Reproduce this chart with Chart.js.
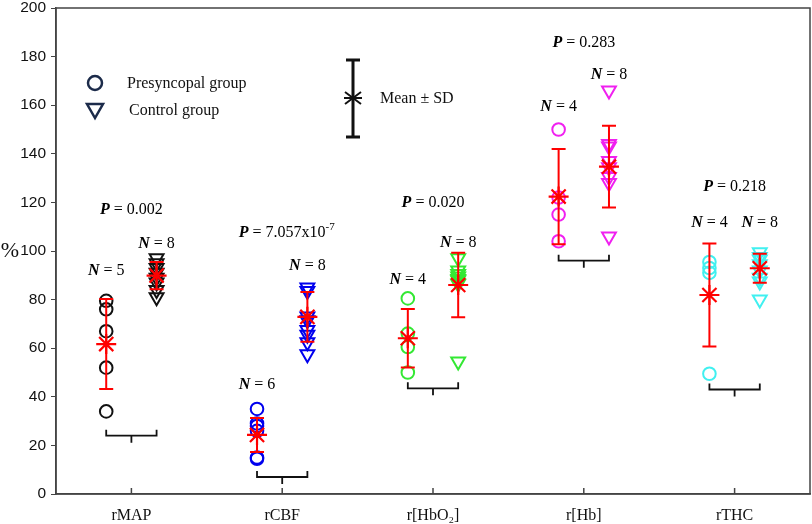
<!DOCTYPE html>
<html><head><meta charset="utf-8">
<script src="https://cdn.jsdelivr.net/npm/chart.js@4/dist/chart.umd.min.js"></script>
<style>html,body{margin:0;padding:0;background:#fff}canvas{display:block}</style>
</head><body>
<canvas id="c" width="812" height="524" style="width:812px;height:524px"></canvas>
<script>
// ---- data ----
const categories = ['rMAP', 'rCBF', 'r[HbO₂]', 'r[Hb]', 'rTHC'];
const colors = ['#111111', '#0000ee', '#33e833', '#f020f0', '#40f0f0'];
const presyncopal = [
  [79.5, 76, 67, 52, 34],
  [35, 29, 28, 26, 15, 14.5],
  [80.5, 66, 60.5, 50],
  [150, 122, 115, 104],
  [95.5, 93, 91, 49.5]
];
const control = [
  [97, 95, 93, 91, 89, 87, 84, 81],
  [85, 83.5, 73, 71.5, 67.5, 65.5, 62.5, 57.5],
  [97, 92, 90.5, 89.5, 88.5, 88, 86.5, 54.5],
  [166, 144, 143, 137, 134.5, 130.5, 128, 106],
  [99.5, 97.5, 96.5, 94.5, 92, 89, 87.5, 80]
];
const preMean = [61.7, 24.3, 64.1, 122.4, 81.9];
const preSD = [18.5, 7, 12, 19.6, 21.2];
const ctrlMean = [89.9, 72.9, 86, 134.7, 92.9];
const ctrlSD = [5.6, 10.2, 13.3, 16.8, 6];
const pValues = ['0.002', '7.057x10^-7', '0.020', '0.283', '0.218'];
const pLabelY = [117, 107.5, 120, 185.5, 126.5];
const nPre = [5, 6, 4, 4, 4];
const nCtrl = [8, 8, 8, 8, 8];
const nPreY = [92, 45, 88, 159.5, 111.5];
const nCtrlY = [103, 94, 103.5, 172.5, 111.5];
const bracketY = [24, 7, 43.5, 96, 43];
const yTicks = [0, 20, 40, 60, 80, 100, 120, 140, 160, 180, 200];

const OFF = 0.167;
const datasets = [];
categories.forEach((c, i) => {
  datasets.push({
    label: c + ' presyncopal', data: presyncopal[i].map(v => ({x: i + 1 - OFF, y: v})),
    pointStyle: 'circle', radius: 6.3, borderColor: colors[i], backgroundColor: 'rgba(0,0,0,0)',
    borderWidth: 2, showLine: false, order: 2
  });
  datasets.push({
    label: c + ' control', data: control[i].map(v => ({x: i + 1 + OFF, y: v})),
    pointStyle: 'triangle', rotation: 180, radius: 8, borderColor: colors[i], backgroundColor: 'rgba(0,0,0,0)',
    borderWidth: 2, showLine: false, order: 2
  });
});
datasets.push({
  label: 'mean', data: categories.flatMap((c, i) => [{x: i + 1 - OFF, y: preMean[i]}, {x: i + 1 + OFF, y: ctrlMean[i]}]),
  pointStyle: 'star', radius: 10, borderColor: '#ff0000', backgroundColor: '#ff0000', borderWidth: 2.2, showLine: false, order: 1
});

const SERIF = '"Liberation Serif", "Times New Roman", serif';

function drawLabel(ctx, x, y, lead, rest) {
  ctx.save();
  ctx.textBaseline = 'middle';
  ctx.font = 'italic bold 16px ' + SERIF;
  const w1 = ctx.measureText(lead).width;
  let main = rest, sup = '';
  if (rest.indexOf('^') >= 0) { [main, sup] = rest.split('^'); }
  ctx.font = '16px ' + SERIF;
  const w2 = ctx.measureText(main).width;
  ctx.font = '11px ' + SERIF;
  const w3 = sup ? ctx.measureText(sup).width : 0;
  let sx = x - (w1 + w2 + w3) / 2;
  ctx.fillStyle = '#000';
  ctx.textAlign = 'left';
  ctx.font = 'italic bold 16px ' + SERIF;
  ctx.fillText(lead, sx, y);
  ctx.font = '16px ' + SERIF;
  ctx.fillText(main, sx + w1, y);
  if (sup) { ctx.font = '11px ' + SERIF; ctx.fillText(sup, sx + w1 + w2, y - 6); }
  ctx.restore();
}

const decor = {
  id: 'decor',
  afterDatasetsDraw(chart) {
    const ctx = chart.ctx, xs = chart.scales.x, ys = chart.scales.y, ca = chart.chartArea;
    ctx.save();
    // error bars
    ctx.strokeStyle = '#ff0000'; ctx.lineWidth = 2;
    const bar = (xv, m, sd) => {
      const px = xs.getPixelForValue(xv), t = ys.getPixelForValue(m + sd), b = ys.getPixelForValue(m - sd);
      ctx.beginPath();
      ctx.moveTo(px, t); ctx.lineTo(px, b);
      ctx.moveTo(px - 7, t); ctx.lineTo(px + 7, t);
      ctx.moveTo(px - 7, b); ctx.lineTo(px + 7, b);
      ctx.stroke();
    };
    categories.forEach((c, i) => { bar(i + 1 - OFF, preMean[i], preSD[i]); bar(i + 1 + OFF, ctrlMean[i], ctrlSD[i]); });
    // brackets
    ctx.strokeStyle = '#111'; ctx.lineWidth = 1.8;
    categories.forEach((c, i) => {
      const l = xs.getPixelForValue(i + 1 - OFF), r = xs.getPixelForValue(i + 1 + OFF), m = (l + r) / 2;
      const y = ys.getPixelForValue(bracketY[i]);
      ctx.beginPath();
      ctx.moveTo(l, y - 6); ctx.lineTo(l, y); ctx.lineTo(r, y); ctx.lineTo(r, y - 6);
      ctx.moveTo(m, y); ctx.lineTo(m, y + 7);
      ctx.stroke();
    });
    // frame
    ctx.strokeStyle = '#444'; ctx.lineWidth = 1.5;
    ctx.strokeRect(ca.left, ca.top, ca.right - ca.left, ca.bottom - ca.top);
    // inward x ticks
    categories.forEach((c, i) => {
      const px = xs.getPixelForValue(i + 1);
      ctx.beginPath(); ctx.moveTo(px, ca.bottom); ctx.lineTo(px, ca.bottom - 6); ctx.stroke();
    });
    ctx.restore();
    // text labels
    categories.forEach((c, i) => {
      drawLabel(ctx, xs.getPixelForValue(i + 1 + (i === 1 ? 0.03 : 0)), ys.getPixelForValue(pLabelY[i]), 'P', ' = ' + pValues[i]);
      drawLabel(ctx, xs.getPixelForValue(i + 1 - OFF), ys.getPixelForValue(nPreY[i]), 'N', ' = ' + nPre[i]);
      drawLabel(ctx, xs.getPixelForValue(i + 1 + OFF), ys.getPixelForValue(nCtrlY[i]), 'N', ' = ' + nCtrl[i]);
    });
    // "%" axis label
    ctx.save();
    ctx.font = '22px ' + SERIF; ctx.fillStyle = '#111'; ctx.textAlign = 'center'; ctx.textBaseline = 'middle';
    ctx.fillText('%', 10, ys.getPixelForValue(100));
    ctx.restore();
    // legend
    ctx.save();
    const navy = '#1c2b4a';
    ctx.strokeStyle = navy; ctx.lineWidth = 2.5;
    ctx.beginPath(); ctx.arc(95, 83, 7, 0, Math.PI * 2); ctx.stroke();
    ctx.beginPath(); ctx.moveTo(87, 104); ctx.lineTo(103, 104); ctx.lineTo(95, 118); ctx.closePath(); ctx.stroke();
    ctx.fillStyle = '#111'; ctx.font = '16px ' + SERIF; ctx.textBaseline = 'middle'; ctx.textAlign = 'left';
    ctx.fillText('Presyncopal group', 127, 84);
    ctx.fillText('Control group', 129, 111);
    ctx.fillText('Mean ± SD', 380, 99);
    ctx.strokeStyle = '#111'; ctx.lineWidth = 3;
    ctx.beginPath();
    ctx.moveTo(353, 60); ctx.lineTo(353, 137);
    ctx.moveTo(346, 60); ctx.lineTo(360, 60);
    ctx.moveTo(346, 137); ctx.lineTo(360, 137);
    ctx.stroke();
    ctx.lineWidth = 2;
    ctx.beginPath();
    ctx.moveTo(345, 92); ctx.lineTo(361, 104);
    ctx.moveTo(361, 92); ctx.lineTo(345, 104);
    ctx.moveTo(344, 98); ctx.lineTo(362, 98);
    ctx.stroke();
    ctx.restore();
  }
};

new Chart(document.getElementById('c'), {
  type: 'scatter',
  data: {datasets},
  options: {
    responsive: false, animation: false, devicePixelRatio: 1,
    layout: {autoPadding: false, padding: {left: 0, right: 2, top: 8, bottom: 0}},
    plugins: {legend: {display: false}, tooltip: {enabled: false}},
    scales: {
      x: {
        type: 'linear', min: 0.5, max: 5.5,
        afterBuildTicks: s => { s.ticks = categories.map((c, i) => ({value: i + 1})); },
        ticks: {callback: v => categories[v - 1] || '', font: {family: SERIF, size: 16}, color: '#111', padding: 12, autoSkip: false, maxRotation: 0},
        grid: {display: false, drawTicks: false},
        border: {display: true, color: '#444', width: 1.5},
        afterFit: s => { s.height = 30; s.paddingLeft = 0; s.paddingRight = 0; }
      },
      y: {
        min: 0, max: 200,
        afterBuildTicks: s => { s.ticks = yTicks.map(v => ({value: v})); },
        ticks: {font: {family: '"Liberation Sans", Arial, sans-serif', size: 15.5}, color: '#111', padding: 5},
        grid: {drawOnChartArea: false, tickLength: 5, color: '#444', lineWidth: 1},
        border: {color: '#444', width: 1.5},
        afterFit: s => { s.width = 56; s.paddingTop = 0; s.paddingBottom = 0; }
      }
    }
  },
  plugins: [decor]
});
</script>
</body></html>
